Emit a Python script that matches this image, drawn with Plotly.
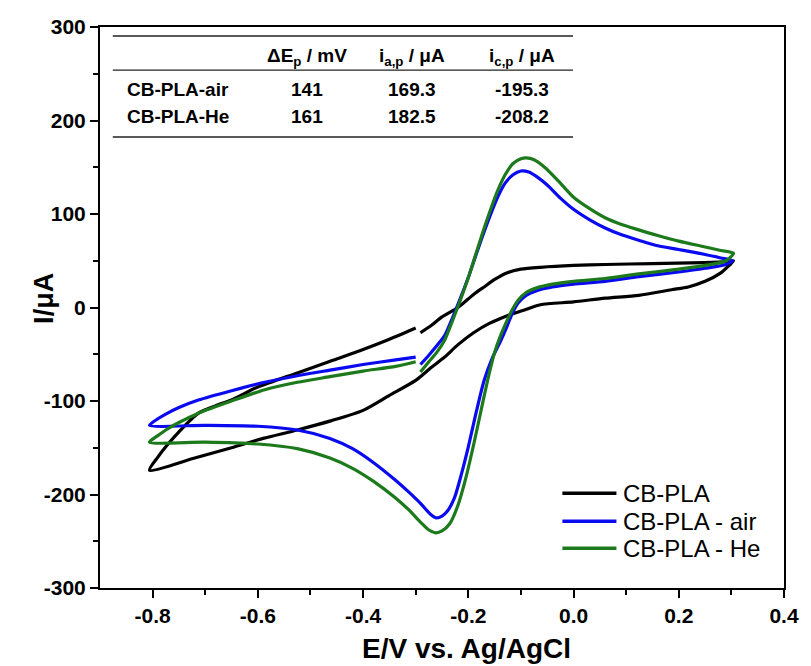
import plotly.graph_objects as go

# ---------------- data ----------------
cbpla_E = [-0.291, -0.27, -0.25, -0.22, -0.19, -0.17, -0.15, -0.127, -0.1, -0.063, 0.0, 0.06, 0.15, 0.248, 0.29, 0.304,
           0.29, 0.28, 0.25, 0.218, 0.186, 0.124, 0.06, 0.0, -0.063, -0.095, -0.127, -0.16, -0.19, -0.22, -0.245, -0.27,
           -0.3, -0.35, -0.4, -0.46, -0.525, -0.59, -0.65, -0.72, -0.806,
           -0.79, -0.775, -0.75, -0.713, -0.68, -0.65, -0.6, -0.525, -0.46, -0.4, -0.35, -0.3]
cbpla_I = [-27, -19, -10, 0, 14, 22, 30, 37, 41, 43, 45, 46, 47, 48, 49, 50,
           42, 37, 28, 22, 19, 13, 10, 6, 3, -3, -9, -17, -27, -40, -53, -64,
           -78, -94, -110, -121, -131, -140, -150, -161, -174,
           -160, -149, -133, -113, -105, -99, -85, -70, -57, -45, -34, -22]

air_E = [-0.291, -0.275, -0.26, -0.245, -0.23, -0.215, -0.2, -0.188, -0.175, -0.16, -0.145, -0.13, -0.115, -0.1,
         -0.085, -0.07, -0.05, -0.025, 0.0, 0.03, 0.06, 0.09, 0.124, 0.16, 0.2, 0.248, 0.28, 0.302,
         0.29, 0.25, 0.2, 0.124, 0.06, 0.0, -0.04, -0.07, -0.09, -0.105, -0.117, -0.127, -0.138, -0.155, -0.17,
         -0.185, -0.2, -0.213, -0.226, -0.24, -0.25, -0.26, -0.272, -0.29, -0.314, -0.34, -0.38, -0.42, -0.463,
         -0.525, -0.6, -0.7, -0.806,
         -0.79, -0.775, -0.75, -0.713, -0.65, -0.587, -0.525, -0.463, -0.4, -0.338, -0.3]
air_I = [-61, -51, -41, -30, -11, 10, 32, 52, 73, 96, 117, 133, 142, 146,
         145, 140, 131, 117, 105, 94, 85, 78, 72, 66, 62, 57, 53, 50,
         46, 42, 38, 33, 28, 25, 22, 18, 13, 5, -7, -21, -35, -55, -78,
         -112, -149, -178, -203, -218, -223, -225, -221, -210, -197, -184, -166, -151, -140,
         -131, -127, -126, -126,
         -119, -114, -107, -99, -89, -80, -73, -67, -61, -56, -53]

he_E = [-0.291, -0.275, -0.26, -0.245, -0.23, -0.215, -0.2, -0.188, -0.175, -0.16, -0.145, -0.13, -0.115, -0.1,
        -0.09, -0.075, -0.055, -0.03, 0.0, 0.03, 0.06, 0.09, 0.124, 0.16, 0.2, 0.248, 0.28, 0.304,
        0.29, 0.25, 0.2, 0.124, 0.06, 0.0, -0.04, -0.07, -0.09, -0.105, -0.117, -0.128, -0.14, -0.15, -0.16,
        -0.175, -0.188, -0.205, -0.22, -0.235, -0.25, -0.262, -0.275, -0.29, -0.314, -0.34, -0.38, -0.42, -0.463,
        -0.525, -0.6, -0.7, -0.806,
        -0.79, -0.775, -0.75, -0.713, -0.65, -0.587, -0.525, -0.463, -0.4, -0.338, -0.3]
he_I = [-69, -58, -48, -35, -14, 8, 32, 53, 76, 101, 124, 142, 154, 159,
        160, 158, 150, 136, 118, 106, 96, 89, 83, 77, 71, 65, 61, 58,
        50, 45, 41, 36, 31, 28, 25, 21, 16, 8, -3, -16, -32, -48, -70,
        -108, -142, -183, -212, -231, -239, -241, -238, -230, -216, -203, -186, -172, -161,
        -151, -146, -144, -144,
        -137, -131, -123, -113, -100, -88, -80, -74, -68, -63, -58]

series_names = ["CB-PLA", "CB-PLA - air", "CB-PLA - He"]
series_colors = ["#000000", "#0a0af0", "#1c7a1c"]

x_tickvals = [-0.8, -0.6, -0.4, -0.2, 0.0, 0.2, 0.4]
x_ticktext = ["-0.8", "-0.6", "-0.4", "-0.2", "0.0", "0.2", "0.4"]
y_tickvals = [-300, -200, -100, 0, 100, 200, 300]
y_ticktext = ["-300", "-200", "-100", "0", "100", "200", "300"]
x_minor = [-0.7, -0.5, -0.3, -0.1, 0.1, 0.3]
y_minor = [-250, -150, -50, 50, 150, 250]

table_header = ["ΔE<sub>p</sub> / mV", "i<sub>a,p</sub> / μA", "i<sub>c,p</sub> / μA"]
table_rows = ["CB-PLA-air", "CB-PLA-He"]
table_dEp = ["141", "161"]
table_iap = ["169.3", "182.5"]
table_icp = ["-195.3", "-208.2"]

# ---------------- figure ----------------
FONT = "Liberation Sans, Arial, sans-serif"
fig = go.Figure()
for E, I, name, col in zip([cbpla_E, air_E, he_E], [cbpla_I, air_I, he_I], series_names, series_colors):
    fig.add_trace(go.Scatter(x=E, y=I, mode="lines", name=name,
                             line=dict(color=col, width=3.2, shape="spline", smoothing=0.7),
                             showlegend=False))

axis_common = dict(showline=True, linecolor="black", linewidth=2, mirror=True,
                   ticks="outside", ticklen=8, tickwidth=2, tickcolor="black",
                   showgrid=False, zeroline=False,
                   tickfont=dict(family=FONT, size=21, color="black", weight="bold"))
fig.update_xaxes(range=[-0.9, 0.4], tickmode="array", tickvals=x_tickvals, ticktext=x_ticktext,
                 minor=dict(tickmode="array", tickvals=x_minor, ticks="outside", ticklen=5,
                            tickwidth=2, tickcolor="black"),
                 **axis_common)
fig.update_yaxes(range=[-300, 300], tickmode="array", tickvals=y_tickvals, ticktext=y_ticktext,
                 minor=dict(tickmode="array", tickvals=y_minor, ticks="outside", ticklen=5,
                            tickwidth=2, tickcolor="black"),
                 **axis_common)

annotations = []
shapes = []

# axis titles
annotations.append(dict(text="E/V vs. Ag/AgCl", xref="paper", yref="paper", x=0.536, y=-0.107,
                        xanchor="center", yanchor="middle", showarrow=False,
                        font=dict(family=FONT, size=28, color="black", weight="bold")))
annotations.append(dict(text="I/μA", xref="paper", yref="paper", x=-0.082, y=0.517,
                        xanchor="center", yanchor="middle", showarrow=False, textangle=-90,
                        font=dict(family=FONT, size=27, color="black", weight="bold")))

# legend (drawn manually)
leg_y = [0.169, 0.119, 0.071]
for name, col, yy in zip(series_names, series_colors, leg_y):
    shapes.append(dict(type="line", xref="paper", yref="paper", x0=0.676, x1=0.755, y0=yy, y1=yy,
                       line=dict(color=col, width=3.5)))
    annotations.append(dict(text=name, xref="paper", yref="paper", x=0.761, y=yy,
                            xanchor="left", yanchor="middle", showarrow=False,
                            font=dict(family=FONT, size=24, color="black")))

# table inset
for yy, w in [(0.984, 1.5), (0.923, 1.2), (0.804, 1.5)]:
    shapes.append(dict(type="line", xref="paper", yref="paper", x0=0.0187, x1=0.6916, y0=yy, y1=yy,
                       line=dict(color="#222222", width=w)))
col_x = [0.3026, 0.4568, 0.6167]
tfont = dict(family=FONT, size=19, color="black", weight="bold")
for cx, h in zip(col_x, table_header):
    annotations.append(dict(text=h, xref="paper", yref="paper", x=cx, y=0.9465, xanchor="center",
                            yanchor="middle", showarrow=False, font=tfont))
row_y = [0.889, 0.841]
for i, ry in enumerate(row_y):
    annotations.append(dict(text=table_rows[i], xref="paper", yref="paper", x=0.037, y=ry,
                            xanchor="left", yanchor="middle", showarrow=False, font=tfont))
    for cx, vals in zip(col_x, [table_dEp, table_iap, table_icp]):
        annotations.append(dict(text=vals[i], xref="paper", yref="paper", x=cx, y=ry,
                                xanchor="center", yanchor="middle", showarrow=False, font=tfont))

fig.update_layout(width=811, height=666, margin=dict(l=100, r=17, t=27, b=78),
                  paper_bgcolor="white", plot_bgcolor="white",
                  annotations=annotations, shapes=shapes, showlegend=False)

fig.write_html("out.html", config={"displayModeBar": False},
               post_script="document.body.style.margin='0';document.body.style.overflow='hidden';")
